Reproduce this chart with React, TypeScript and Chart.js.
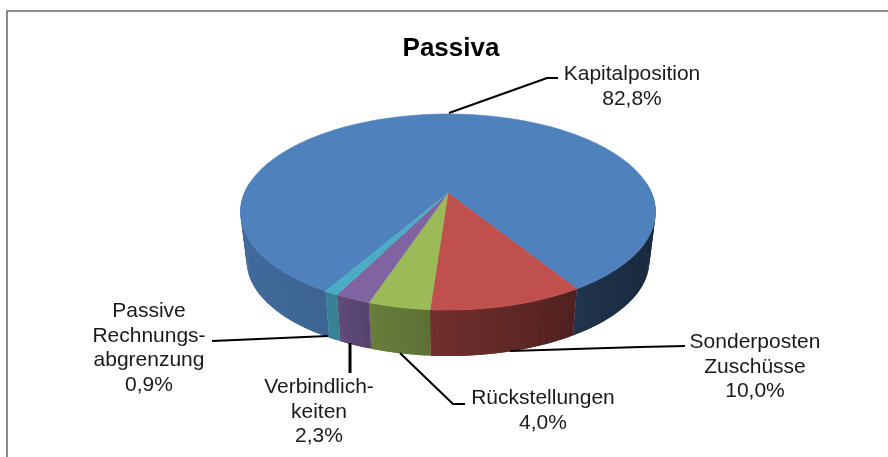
import React, { useEffect, useRef } from "react";
import { Chart, registerables } from "chart.js";

Chart.register(...registerables);

// ---- data ----
const title = "Passiva";
const categories = [
  "Kapitalposition",
  "Sonderposten Zuschüsse",
  "Rückstellungen",
  "Verbindlichkeiten",
  "Passive Rechnungsabgrenzung",
];
const values = [82.8, 10.0, 4.0, 2.3, 0.9];
const labelLines = [
  ["Kapitalposition"],
  ["Sonderposten", "Zuschüsse"],
  ["Rückstellungen"],
  ["Verbindlich-", "keiten"],
  ["Passive", "Rechnungs-", "abgrenzung"],
];
const sliceColors = ["#4F81BD", "#C0504D", "#9BBB59", "#8064A2", "#4BACC6"];

// ---- layout ----
const labelAnchors = [
  { x: 632, y: 80 },
  { x: 755, y: 348 },
  { x: 543, y: 404 },
  { x: 319, y: 393 },
  { x: 149, y: 317 },
];
const leaders = [
  { w: 2, pts: [[449, 113], [547, 78], [558, 78]] },
  { w: 2, pts: [[510, 351], [640, 347], [685, 346]] },
  { w: 2, pts: [[400, 353], [453, 404], [465, 404]] },
  { w: 3, pts: [[350, 343], [350, 373]] },
  { w: 2, pts: [[328, 336], [212, 341]] },
];
const LINE_HEIGHT = 24.5;
const FONT = '21px "Liberation Sans", Arial, sans-serif';
const APEX = { x: 448, y: 193 };
const K = 0.194;
const SX = 203.6;
const SY = 94.3;
const DEPTH = 49.5;
const BOTTOM_SCALE = 0.97;
const shadeStops: [number, number][] = [
  [240, 0.82], [320, 0.78], [345, 0.73], [365, 0.68], [430, 0.6],
  [440, 0.58], [540, 0.47], [600, 0.38], [656, 0.33],
];

function project(a: number) {
  const X = Math.cos(a);
  const Y = Math.sin(a);
  const w = 1 - K * Y;
  return { x: (SX * X) / w, y: (SY * Y) / w };
}
const topPt = (a: number) => {
  const p = project(a);
  return { x: APEX.x + p.x, y: APEX.y + p.y };
};
const botPt = (a: number) => {
  const p = project(a);
  return { x: APEX.x + p.x * BOTTOM_SCALE, y: APEX.y + DEPTH + p.y * BOTTOM_SCALE };
};
function shadeAt(x: number) {
  if (x <= shadeStops[0][0]) return shadeStops[0][1];
  for (let i = 1; i < shadeStops.length; i++) {
    const [x1, f1] = shadeStops[i];
    const [x0, f0] = shadeStops[i - 1];
    if (x <= x1) return f0 + ((f1 - f0) * (x - x0)) / (x1 - x0);
  }
  return shadeStops[shadeStops.length - 1][1];
}
function shaded(hex: string, f: number) {
  const n = parseInt(hex.slice(1), 16);
  const c = [(n >> 16) & 255, (n >> 8) & 255, n & 255].map((v) => Math.round(v * f));
  return `rgb(${c[0]},${c[1]},${c[2]})`;
}

const pie3d = {
  id: "pie3d",
  beforeDraw(chart: any) {
    const { ctx } = chart;
    ctx.save();
    ctx.fillStyle = "#8c8c8c";
    ctx.fillRect(6, 10, 882, 2);
    ctx.fillRect(6, 10, 2, 447);
    ctx.restore();
  },
  beforeDatasetDraw(chart: any, args: any) {
    const { ctx } = chart;
    const arcs = args.meta.data as any[];
    const STEP = Math.PI / 180;
    ctx.save();
    // side wall: each quad overlaps the next one so that no seams show
    arcs.forEach((arc) => {
      const base = arc.options.backgroundColor as string;
      const { startAngle: s, endAngle: e } = arc;
      for (let a = s; a < e; a += STEP) {
        const b = Math.min(a + STEP, e);
        const c = Math.min(a + 2 * STEP, e);
        if (Math.sin((a + b) / 2) < -0.1) continue;
        const t0 = topPt(a), t1 = topPt(c), b0 = botPt(a), b1 = botPt(c);
        ctx.fillStyle = shaded(base, shadeAt((t0.x + topPt(b).x) / 2));
        ctx.beginPath();
        ctx.moveTo(t0.x, t0.y);
        ctx.lineTo(t1.x, t1.y);
        ctx.lineTo(b1.x, b1.y);
        ctx.lineTo(b0.x, b0.y);
        ctx.closePath();
        ctx.fill();
      }
    });
    // top face
    arcs.forEach((arc) => {
      const base = arc.options.backgroundColor as string;
      const { startAngle: s, endAngle: e } = arc;
      ctx.fillStyle = base;
      ctx.strokeStyle = base;
      ctx.lineWidth = 0.6;
      ctx.beginPath();
      ctx.moveTo(APEX.x, APEX.y);
      for (let a = s; a < e; a += STEP) {
        const p = topPt(a);
        ctx.lineTo(p.x, p.y);
      }
      const p = topPt(e);
      ctx.lineTo(p.x, p.y);
      ctx.closePath();
      ctx.fill();
      ctx.stroke();
    });
    ctx.restore();
    return false;
  },
  afterDatasetsDraw(chart: any) {
    const { ctx } = chart;
    ctx.save();
    ctx.strokeStyle = "#000";
    leaders.forEach(({ w, pts }) => {
      ctx.lineWidth = w;
      ctx.beginPath();
      pts.forEach(([x, y], i) => (i ? ctx.lineTo(x, y) : ctx.moveTo(x, y)));
      ctx.stroke();
    });
    ctx.fillStyle = "#1a1a1a";
    ctx.font = FONT;
    ctx.textAlign = "center";
    ctx.textBaseline = "alphabetic";
    labelLines.forEach((lines, i) => {
      const all = [...lines, values[i].toFixed(1).replace(".", ",") + "%"];
      all.forEach((t, j) => {
        ctx.fillText(t, labelAnchors[i].x, labelAnchors[i].y + j * LINE_HEIGHT);
      });
    });
    ctx.restore();
  },
};

export default function App() {
  const ref = useRef<HTMLCanvasElement>(null);
  useEffect(() => {
    const chart = new Chart(ref.current!, {
      type: "pie",
      data: {
        labels: categories,
        datasets: [{ data: values, backgroundColor: sliceColors, borderWidth: 0 }],
      },
      options: {
        responsive: false,
        animation: false,
        rotation: 210,
        layout: { padding: { left: 14 } },
        events: [],
        plugins: {
          legend: { display: false },
          tooltip: { enabled: false },
          title: {
            display: true,
            text: title,
            color: "#000",
            font: { family: '"Liberation Sans", Arial, sans-serif', size: 26, weight: "bold" },
            padding: { top: 33, bottom: 0 },
          },
        },
      },
      plugins: [pie3d],
    } as any);
    return () => chart.destroy();
  }, []);
  return (
    <div style={{ position: "fixed", left: 0, top: 0, width: 888, height: 457, background: "#fff" }}>
      <canvas ref={ref} width={888} height={457} style={{ display: "block" }} />
    </div>
  );
}
